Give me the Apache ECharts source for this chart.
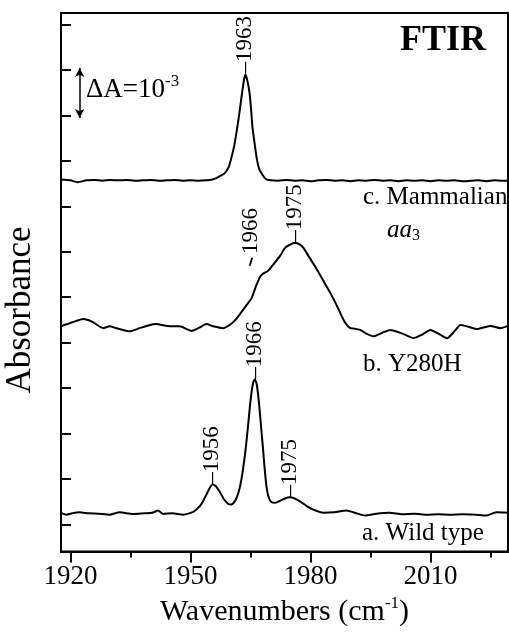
<!DOCTYPE html>
<html>
<head>
<meta charset="utf-8">
<title>FTIR</title>
<script src="https://cdn.jsdelivr.net/npm/echarts@6/dist/echarts.min.js"></script>
<style>
  html, body { margin: 0; padding: 0; background: #fff; }
  #chart { width: 509px; height: 632px; }
</style>
</head>
<body>
<div id="chart"></div>
<script>
// x: wavenumber (cm-1), y: absorbance with offsets (one unit = one y tick)
const wnC = [1917.6, 1920, 1921.8, 1924, 1926, 1928, 1930, 1932, 1934, 1936, 1938, 1940, 1942, 1944, 1946, 1948, 1950, 1952, 1954, 1955.5, 1956.5, 1957.5, 1958.6, 1959.5, 1960.1, 1961, 1961.75, 1962.4, 1962.9, 1963.4, 1963.75, 1964.2, 1964.8, 1965.2, 1965.5, 1966.1, 1966.65, 1967.2, 1967.75, 1968.4, 1969, 1970, 1972, 1974, 1976, 1978, 1980, 1982, 1984, 1986, 1988, 1990, 1992, 1994, 1996, 1998, 2000, 2002, 2004, 2006, 2008, 2010, 2012, 2014, 2016, 2018, 2020, 2022, 2024, 2026, 2028, 2029.4]
const absC = [7.59, 7.57, 7.53, 7.57, 7.58, 7.56, 7.58, 7.57, 7.58, 7.56, 7.57, 7.58, 7.56, 7.57, 7.58, 7.56, 7.57, 7.56, 7.57, 7.59, 7.62, 7.67, 7.73, 7.85, 8.02, 8.35, 8.75, 9.15, 9.48, 9.78, 9.89, 9.78, 9.48, 9.1, 8.75, 8.35, 8.02, 7.82, 7.73, 7.64, 7.59, 7.57, 7.56, 7.58, 7.56, 7.57, 7.55, 7.57, 7.58, 7.56, 7.57, 7.55, 7.57, 7.56, 7.58, 7.56, 7.57, 7.55, 7.57, 7.56, 7.57, 7.55, 7.57, 7.56, 7.57, 7.55, 7.56, 7.57, 7.55, 7.57, 7.56, 7.56]

const wnB = [1917.6, 1920.5, 1923.2, 1925.5, 1928.2, 1929.8, 1931.5, 1934.8, 1937.3, 1939.5, 1941.5, 1943.5, 1945.7, 1947.3, 1950.3, 1952.2, 1954, 1955.7, 1958.2, 1959.8, 1961, 1962.3, 1963.8, 1965.3, 1966.3, 1967.3, 1968.2, 1969.4, 1971, 1972.5, 1973.6, 1975, 1976.1, 1977.3, 1978.3, 1979.5, 1981.7, 1983.3, 1985, 1986.7, 1988.3, 1989.2, 1990, 1991, 1992.5, 1994, 1995.8, 1998, 2000, 2003, 2005.8, 2008, 2010, 2012, 2014.2, 2016, 2017.5, 2019.5, 2021.7, 2023.5, 2025, 2027.5, 2029.4]
const absB = [4.36, 4.45, 4.52, 4.46, 4.32, 4.36, 4.32, 4.25, 4.32, 4.38, 4.41, 4.38, 4.36, 4.36, 4.26, 4.33, 4.41, 4.36, 4.32, 4.39, 4.48, 4.62, 4.8, 4.98, 5.22, 5.43, 5.52, 5.58, 5.75, 5.92, 6.08, 6.16, 6.19, 6.16, 6.08, 5.91, 5.6, 5.35, 5.09, 4.8, 4.5, 4.38, 4.32, 4.31, 4.28, 4.2, 4.14, 4.22, 4.28, 4.2, 4.1, 4.18, 4.28, 4.2, 4.1, 4.25, 4.39, 4.35, 4.3, 4.34, 4.37, 4.32, 4.37]

const wnA = [1917.6, 1919, 1920.5, 1922.3, 1924.5, 1927, 1929.8, 1932.3, 1935.6, 1938.5, 1940.5, 1941.9, 1943.2, 1945.5, 1948.2, 1950.7, 1952.3, 1953.2, 1954, 1954.8, 1955.5, 1956.3, 1957.3, 1958.3, 1959.4, 1960.2, 1961, 1961.7, 1962.3, 1962.8, 1963.2, 1963.7, 1964.1, 1964.5, 1964.9, 1965.3, 1965.7, 1966.1, 1966.5, 1966.9, 1967.3, 1967.7, 1968.2, 1968.6, 1969, 1969.5, 1970.3, 1971.3, 1972.3, 1973.5, 1974.8, 1976.2, 1977.8, 1979.2, 1980.7, 1983.2, 1986, 1989, 1991.5, 1993.6, 1996.5, 1999.8, 2003, 2006, 2009, 2012, 2015, 2018, 2021, 2024, 2026.5, 2029.4]
const absA = [0.26, 0.22, 0.25, 0.27, 0.25, 0.24, 0.22, 0.27, 0.235, 0.25, 0.26, 0.31, 0.235, 0.25, 0.22, 0.28, 0.4, 0.52, 0.66, 0.8, 0.88, 0.85, 0.73, 0.57, 0.46, 0.44, 0.5, 0.62, 0.8, 1.02, 1.25, 1.58, 1.9, 2.25, 2.62, 2.92, 3.12, 3.19, 3.12, 2.88, 2.53, 2.12, 1.62, 1.2, 0.85, 0.62, 0.49, 0.48, 0.52, 0.57, 0.6, 0.57, 0.49, 0.4, 0.33, 0.26, 0.27, 0.31, 0.25, 0.2, 0.24, 0.26, 0.23, 0.24, 0.22, 0.23, 0.22, 0.23, 0.22, 0.2, 0.27, 0.26]

const yTicks = [0, 1, 2, 3, 4, 5, 6, 7, 8, 9, 10, 11]
const xLabels = [1920, 1950, 1980, 2010]
const xMinor = [1935, 1965, 1995, 2025]

// peak labels: [wavenumber, y anchor, text]
const peaks = [
  [1963.75, 9.92, '–1963'],
  [1976.1, 6.22, '–1975'],
  [1965.1, 5.95, '1966'],
  [1966.1, 3.21, '–1966'],
  [1955.3, 0.9, '–1956'],
  [1974.8, 0.62, '–1975'],
]
const tick1966 = [[1965.45, 5.87], [1964.83, 5.69]]
const deltaBar = [1922.3, 8.94, 10.04] // x, bottom, top

const serif = 'Liberation Serif'
const zip = (xs, ys) => xs.map((x, i) => [x, ys[i]])

const trace = (name, data) => ({
  name,
  type: 'line',
  data,
  symbol: 'none',
  smooth: 0.2,
  lineStyle: { color: '#000', width: 2 },
  silent: true,
})

const chart = echarts.init(document.getElementById('chart'))
chart.setOption({
  animation: false,
  grid: {
    left: 61,
    right: 1,
    top: 13,
    bottom: 80,
    show: true,
    borderColor: '#000',
    borderWidth: 2,
  },
  xAxis: [
    {
      type: 'value',
      min: 1917.65,
      max: 2029.4,
      axisLine: { onZero: false, lineStyle: { color: '#000', width: 2 } },
      axisTick: { length: 11, lineStyle: { width: 2 }, customValues: xLabels },
      axisLabel: {
        customValues: xLabels,
        formatter: (v) => String(v),
        color: '#000',
        fontFamily: serif,
        fontSize: 27,
        margin: 12,
      },
      splitLine: { show: false },
      name: '{n|Wavenumbers (cm}{s|-1}{n|)}',
      nameLocation: 'middle',
      nameGap: 40,
      nameTextStyle: {
        rich: {
          n: { fontFamily: serif, fontSize: 30, color: '#000' },
          s: { fontFamily: serif, fontSize: 17, color: '#000', padding: [0, 0, 16, 0] },
        },
      },
    },
    {
      type: 'value',
      min: 1917.65,
      max: 2029.4,
      position: 'bottom',
      axisLine: { show: false, onZero: false },
      axisTick: { length: 6, lineStyle: { width: 2, color: '#000' }, customValues: xMinor },
      axisLabel: { show: false },
      splitLine: { show: false },
    },
  ],
  yAxis: {
    type: 'value',
    min: -0.593,
    max: 11.25,
    axisLine: { show: true, onZero: false, lineStyle: { color: '#000', width: 2 } },
    axisTick: { show: true, inside: true, length: 10, lineStyle: { width: 2 }, customValues: yTicks },
    axisLabel: { show: false },
    splitLine: { show: false },
  },
  series: [
    {
      ...trace('c. Mammalian aa3', zip(wnC, absC)),
      markLine: {
        silent: true,
        symbol: ['arrow', 'arrow'],
        symbolSize: [7, 9],
        label: { show: false },
        lineStyle: { color: '#000', width: 1.5, type: 'solid' },
        data: [[{ coord: [deltaBar[0], deltaBar[1]] }, { coord: [deltaBar[0], deltaBar[2]] }]],
      },
    },
    trace('b. Y280H', zip(wnB, absB)),
    trace('a. Wild type', zip(wnA, absA)),
    {
      type: 'line',
      data: tick1966,
      symbol: 'none',
      lineStyle: { color: '#000', width: 1.8 },
      silent: true,
    },
    {
      type: 'scatter',
      symbolSize: 0,
      silent: true,
      itemStyle: { opacity: 1 },
      data: peaks.map((p) => ({ value: [p[0], p[1]], name: p[2] })),
      label: {
        show: true,
        position: 'inside',
        rotate: 90,
        align: 'left',
        verticalAlign: 'middle',
        formatter: '{b}',
        color: '#000',
        textBorderWidth: 0,
        opacity: 1,
        fontFamily: serif,
        fontSize: 23,
      },
    },
  ],
  graphic: [
    {
      type: 'text',
      x: 400,
      y: 41,
      style: { text: 'FTIR', fontFamily: serif, fontSize: 36, fontWeight: 'bold', fill: '#000', verticalAlign: 'middle' },
    },
    {
      type: 'text',
      x: 86,
      y: 90,
      style: {
        text: '{m|ΔA=10}{s|-3}',
        verticalAlign: 'middle',
        rich: {
          m: { fontFamily: serif, fontSize: 27, fill: '#000' },
          s: { fontFamily: serif, fontSize: 17, fill: '#000', padding: [0, 0, 16, 0] },
        },
      },
    },
    {
      type: 'text',
      x: 363,
      y: 197,
      style: { text: 'c. Mammalian', fontFamily: serif, fontSize: 25, fill: '#000', verticalAlign: 'middle' },
    },
    {
      type: 'text',
      x: 387,
      y: 230,
      style: {
        text: '{i|aa}{s|3}',
        verticalAlign: 'middle',
        rich: {
          i: { fontFamily: serif, fontSize: 25, fontStyle: 'italic', fill: '#000' },
          s: { fontFamily: serif, fontSize: 16, fill: '#000', padding: [12, 0, 0, 0] },
        },
      },
    },
    {
      type: 'text',
      x: 363,
      y: 364,
      style: { text: 'b. Y280H', fontFamily: serif, fontSize: 25, fill: '#000', verticalAlign: 'middle' },
    },
    {
      type: 'text',
      x: 362,
      y: 533,
      style: { text: 'a. Wild type', fontFamily: serif, fontSize: 25, fill: '#000', verticalAlign: 'middle' },
    },
    {
      type: 'text',
      x: 21,
      y: 310,
      rotation: Math.PI / 2,
      style: { text: 'Absorbance', fontFamily: serif, fontSize: 35, fill: '#000', align: 'center', verticalAlign: 'middle' },
    },
  ],
})
</script>
</body>
</html>
